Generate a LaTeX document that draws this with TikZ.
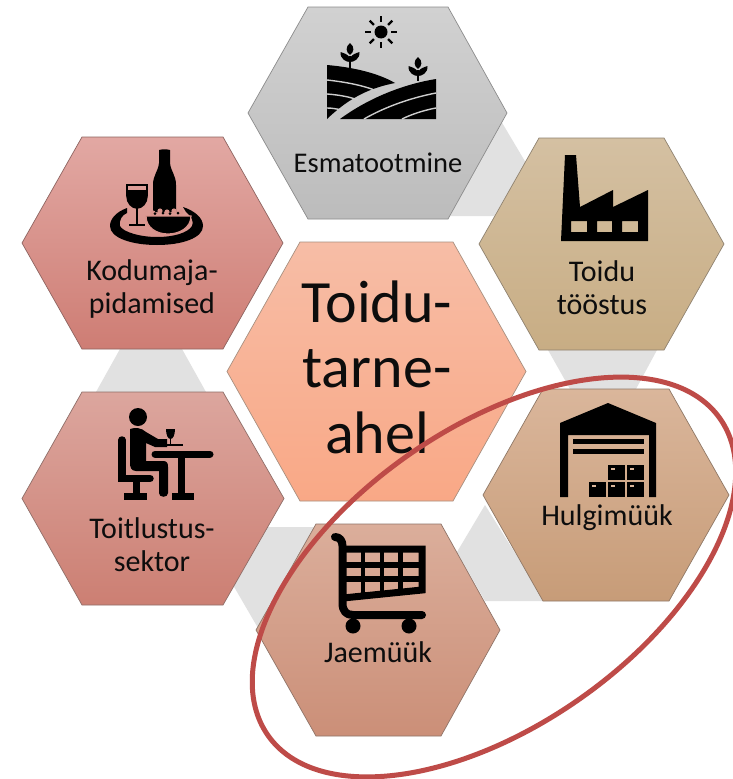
\documentclass[tikz,border=0pt]{standalone}
\usepackage{fontspec}
\setmainfont{Carlito}
\usetikzlibrary{calc}
\tikzset{
  band/.style={fill=bandgray,draw=none},
  lab/.style={align=center,text=black!95,font=\fontsize{30pt}{33pt}\selectfont,inner sep=0pt},
  labs/.style={align=center,text=black!95,font=\fontsize{28.5pt}{33pt}\selectfont,inner sep=0pt},
  big/.style={align=center,text=black!95,font=\fontsize{60pt}{65.5pt}\selectfont,inner sep=0pt},
  ico/.style={fill=black,draw=none}
}
\definecolor{bandgray}{HTML}{E1E1E1}
\definecolor{ringred}{HTML}{BE4B48}
% \hexa{left}{tl}{tr}{right}{top}{bottom}{topcol}{botcol}{edge}
\newcommand{\hexa}[9]{%
  \path[top color=#7,bottom color=#8,draw=#9,line width=0.7pt]
    (#1,{(#5+#6)/2}) -- (#2,#5) -- (#3,#5) -- (#4,{(#5+#6)/2}) -- (#3,#6) -- (#2,#6) -- cycle;}
\definecolor{esA}{HTML}{D1D1D1}\definecolor{esB}{HTML}{BCBCBC}\definecolor{esE}{HTML}{8C8C8C}
\definecolor{koA}{HTML}{E2A8A3}\definecolor{koB}{HTML}{CE7D74}\definecolor{koE}{HTML}{8E6460}
\definecolor{toA}{HTML}{D4C0A2}\definecolor{toB}{HTML}{C8AD84}\definecolor{toE}{HTML}{8F8270}
\definecolor{tlA}{HTML}{DCA69E}\definecolor{tlB}{HTML}{CC7F73}\definecolor{tlE}{HTML}{8F6E68}
\definecolor{jaA}{HTML}{DBAE9B}\definecolor{jaB}{HTML}{CB8F78}\definecolor{jaE}{HTML}{8F7468}
\definecolor{huA}{HTML}{DAB69B}\definecolor{huB}{HTML}{C79C78}\definecolor{huE}{HTML}{8F7866}
\definecolor{ceA}{HTML}{F7BDA6}\definecolor{ceB}{HTML}{F9A886}\definecolor{ceE}{HTML}{A89080}
\begin{document}
\begin{tikzpicture}[x=1pt,y=-1pt]
\useasboundingbox (0,0) rectangle (733,779);
\fill[white] (0,0) rectangle (733,779);
% gray link bands
\path[band] (450,216) -- (494,216) -- (526,163) -- (501,121) -- cycle;
\path[band] (548,350) -- (657,350) -- (636,389) -- (570,389) -- cycle;
\path[band] (485,505) -- (457,552) -- (485,601) -- (545,601) -- cycle;
\path[band] (267,527) -- (318,527) -- (258,628) -- (233,585) -- cycle;
\path[band] (120,349) -- (182,349) -- (206,392) -- (96,392) -- cycle;
% hexagons
\hexa{248}{308}{448}{507}{7}{219}{esA}{esB}{esE}
\hexa{22}{82}{223}{283}{137}{349}{koA}{koB}{koE}
\hexa{479}{539}{664}{724}{138}{350}{toA}{toB}{toE}
\hexa{22}{82}{223}{284}{392}{605}{tlA}{tlB}{tlE}
\hexa{256}{316}{441}{500}{524}{736}{jaA}{jaB}{jaE}
\hexa{483}{543}{669}{729}{389}{601}{huA}{huB}{huE}
\hexa{227}{300}{453}{526}{242}{501}{ceA}{ceB}{ceE}
% labels
\node[labs] (esm) at (378,163) {Esmatootmine};
\node[lab] (kod) at (152,289) {Kodumaja-\\pidamised};
\node[lab] (toi) at (602,288) {Toidu\\tööstus};
\node[lab] (tls) at (152,545) {Toitlustus-\\sektor};
\node[lab] (jae) at (378,652) {Jaemüük};
\node[lab] (hul) at (607,518) {Hulgimüük};
\node[big] (cen) at (377,367) {Toidu-\\tarne-\\ahel};
% --- icon: fields + sun
\fill (381,32) circle (6.5);
\foreach \a in {0,45,...,315}
  \draw[line width=2.2pt] ($(381,32)+(\a:10)$) -- ($(381,32)+(\a:16)$);
\path[ico] (327,65) .. controls (350,67) and (376,72) .. (395,83) .. controls (370,88) and (350,97) .. (327,119) -- cycle;
\path[ico] (340,119) .. controls (370,97) and (405,84) .. (436,79) -- (436,119) -- cycle;
\draw[line width=1.4pt,draw=esA!80!esB] (327,80) .. controls (345,82) and (362,85) .. (377,91);
\draw[line width=1.4pt,draw=esA!80!esB] (327,94) .. controls (340,95) and (350,97) .. (358,100);
\draw[line width=1.4pt,draw=esA!80!esB] (327,108) .. controls (332,108) and (337,109) .. (342,110);
\draw[line width=1.4pt,draw=esA!80!esB] (364,119) .. controls (385,107) and (410,98) .. (436,93);
\draw[line width=1.4pt,draw=esA!80!esB] (402,119) .. controls (412,114) and (425,110) .. (436,108);
\draw[line width=1.6pt] (350,56) -- (350,68);
\draw[line width=1.6pt] (418,70) -- (418,81);
\foreach \px/\py in {350/43,418/57}{
  \path[ico] (\px,\py) .. controls (\px+5,\py+4) and (\px+4,\py+9) .. (\px,\py+12) .. controls (\px-4,\py+9) and (\px-5,\py+4) .. (\px,\py);
  \path[ico] (\px-9.5,\py+9) .. controls (\px-7,\py+10) and (\px-2,\py+11) .. (\px,\py+15) .. controls (\px+2,\py+11) and (\px+7,\py+10) .. (\px+9.5,\py+9) .. controls (\px+10,\py+16) and (\px+4,\py+19) .. (\px,\py+19) .. controls (\px-4,\py+19) and (\px-10,\py+16) .. (\px-9.5,\py+9);
}
% --- icon: bottle, glass, tray
\path[ico] (159,150) .. controls (163,149) and (166,149) .. (170,150) -- (170,154) -- (170,163) .. controls (171,172) and (176,175) .. (176,185) -- (176,212) -- (153,212) -- (153,185) .. controls (153,175) and (158,172) .. (159,163) -- cycle;
\draw[line width=1.6pt] (127,185) -- (147,185) -- (147,196) .. controls (147,203) and (142,208) .. (137,208) .. controls (132,208) and (127,203) .. (127,196) -- cycle;
\path[ico] (127,190) -- (147,190) -- (147,196) .. controls (147,203) and (142,208) .. (137,208) .. controls (132,208) and (127,203) .. (127,196) -- cycle;
\draw[line width=2.2pt] (137,207) -- (137,224);
\draw[line width=2.2pt] (129,225) -- (145,225);
\path[ico] (127,208) .. controls (116,212) and (110,219) .. (110,226) .. controls (110,238) and (132,245) .. (157,245) .. controls (182,245) and (203,238) .. (203,226) .. controls (203,218) and (195,211) .. (183,207) -- (186,212) .. controls (192,217) and (194,222) .. (192,226) .. controls (188,233) and (173,237) .. (157,237) .. controls (140,237) and (123,232) .. (120,226) .. controls (119,220) and (122,215) .. (127,213) -- cycle;
\path[ico,draw=koA!50!koB,line width=1.2pt] (146,216) -- (191,216) .. controls (191,228) and (179,234) .. (168,234) .. controls (157,234) and (146,228) .. (146,216) -- cycle;
\foreach \px/\py in {153/213,160/211,167/212,174/211,181/212}
  \fill[koA!50!koB] (\px,\py) circle (2.6);
\foreach \px/\py in {155/213.5,163/213,170/213.5,178/213}
  \fill (\px,\py) circle (1.5);
% --- icon: factory
\path[ico,even odd rule] (565,155) -- (576,155) -- (580,207) -- (613,190) -- (613,207) -- (648,190) -- (648,241) -- (561,241) -- cycle
  (571,221) rectangle (587,232) (597,221) rectangle (612,232) (622,221) rectangle (638,232);
% --- icon: diner
\fill (138,417) circle (9);
\path[ico] (130,429) .. controls (135,427) and (142,428) .. (146,432) -- (158,439) -- (167,439) -- (167,447) -- (155,447) -- (146,443) -- (146,461) -- (163,461) .. controls (167,461) and (168,463) .. (168,467) -- (168,493) .. controls (168,498) and (159,498) .. (159,493) -- (159,471) -- (136,471) .. controls (131,471) and (130,467) .. (130,463) -- cycle;
\draw[line width=7pt,line cap=round] (155,454) -- (210,454);
\draw[line width=7pt] (181.5,454) -- (181.5,494);
\draw[line width=7pt] (172,496.5) -- (194,496.5);
\draw[line width=7.5pt,line cap=round] (122,440) -- (122,478.5) -- (150,478.5);
\draw[line width=6.5pt] (136.5,478) -- (136.5,496);
\draw[line width=7pt] (124,496.5) -- (147,496.5);
\path[ico] (166,429) -- (175,429) .. controls (175,435) and (173,439) .. (170.5,439) .. controls (168,439) and (166,435) .. (166,429) -- cycle;
\draw[line width=0.9pt] (170.5,439) -- (170.5,445);
\draw[line width=1.2pt] (165,445) -- (183,445);
% --- icon: cart
\draw[line width=8pt,line cap=round,line join=round] (335,537) .. controls (340,537) and (342.5,541) .. (342.5,546) -- (342.5,603) .. controls (342.5,611) and (346,615) .. (353,615) -- (422,615);
\draw[line width=7pt,line join=miter] (343,549) -- (422,549) -- (422,590) -- (343,598);
\draw[line width=6pt] (343,565) -- (424,565);
\draw[line width=6pt] (343,579) -- (424,579);
\draw[line width=4.5pt] (363,549) -- (363,595);
\draw[line width=4.5pt] (382,549) -- (382,593);
\draw[line width=4.5pt] (400.5,549) -- (400.5,591);
\fill (353,626) circle (7.5);
\fill (409,626) circle (7.5);
% --- icon: warehouse
\path[ico] (608,403) -- (656,423) -- (656,497) -- (649,497) -- (649,435) -- (568,435) -- (568,497) -- (560,497) -- (560,423) -- cycle;
\path[ico] (573,439) rectangle (644,444);
\path[ico] (573,449) rectangle (644,454);
\foreach \bx/\by in {589/482,608/482,627/482,608/465,627/465}{
  \path[ico] (\bx,\by) rectangle ++(17,15);
  \fill[huA] (\bx+3,\by+2.5) rectangle ++(4,2);
}
% ring on top of everything
\draw[ringred,line width=5pt,rotate around={35:(494,577)}] (494,577) ellipse [x radius=276,y radius=149];
\end{tikzpicture}
\end{document}
